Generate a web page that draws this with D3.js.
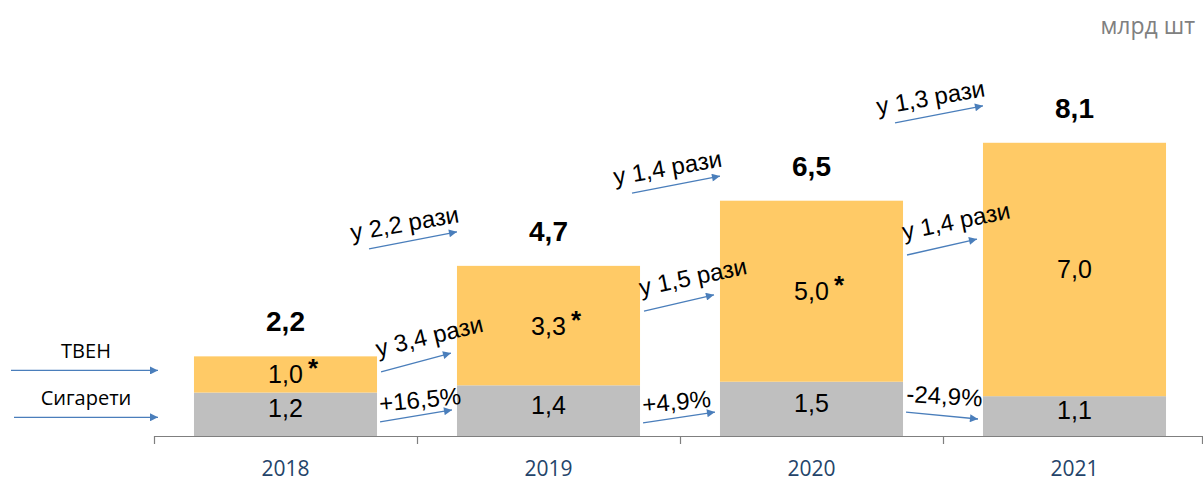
<!DOCTYPE html>
<html>
<head>
<meta charset="utf-8">
<script src="https://cdn.jsdelivr.net/npm/d3@7"></script>
<style>
  body { margin: 0; background: #fff; }
  svg { display: block; }
  .annot { font-family: "Liberation Sans", Arial, sans-serif; font-size: 24px; fill: #000; }
  .legend { font-family: "Open Sans", sans-serif; font-size: 20px; fill: #000; }
</style>
</head>
<body>
<div id="chart"></div>
<script>
'use strict';
// Data
const years = ['2018', '2019', '2020', '2021']
const cigarettes = [1.2, 1.4, 1.5, 1.1]
const tven = [1.0, 3.3, 5.0, 7.0]
const totals = [2.2, 4.7, 6.5, 8.1]
const tvenStar = [true, true, true, false]
const seriesNames = ['ТВЕН', 'Сигарети']
const totalGrowth = ['у 2,2 рази', 'у 1,4 рази', 'у 1,3 рази']
const tvenGrowth = ['у 3,4 рази', 'у 1,5 рази', 'у 1,4 рази']
const cigGrowth = ['+16,5%', '+4,9%', '-24,9%']
const unitLabel = 'млрд шт'

// Arrow heights between bars (in chart units), start/end per gap
const totalArrowLevels = [[5.17, 5.64], [6.71, 7.18], [8.65, 9.12]]
const tvenArrowLevels = [[1.77, 2.29], [3.45, 3.90], [5.0, 5.44]]
const cigArrowLevels = [[0.39, 0.72], [0.36, 0.66], [0.66, 0.47]]

const W = 1203
const H = 482
const yellow = '#FFCA66'
const grey = '#BFBFBF'
const arrowBlue = '#4A7EBB'

const locale = d3.formatLocale({ decimal: ',', thousands: ' ', grouping: [3], currency: ['', ''] })
const fmt = locale.format('.1f')

const x = d3.scaleBand().domain(years).range([154, 1206]).paddingInner(0.304).paddingOuter(0.152)
const y = d3.scaleLinear().domain([0, 10]).range([436, 74])

const svg = d3.select('#chart').append('svg')
    .attr('width', W)
    .attr('height', H)

svg.append('defs').append('marker')
    .attr('id', 'head')
    .attr('viewBox', '0 0 10 10')
    .attr('refX', 10)
    .attr('refY', 5)
    .attr('markerUnits', 'userSpaceOnUse')
    .attr('markerWidth', 11)
    .attr('markerHeight', 8)
    .attr('orient', 'auto')
    .append('path')
    .attr('d', 'M0,0 L10,5 L0,10 Z')
    .attr('fill', arrowBlue)

// Bars: cigarettes (bottom) and TVEN (top)
svg.append('g').selectAll('rect').data(years).join('rect')
    .attr('x', d => x(d))
    .attr('width', x.bandwidth())
    .attr('y', (d, i) => y(cigarettes[i]))
    .attr('height', (d, i) => y(0) - y(cigarettes[i]))
    .attr('fill', grey)
svg.append('g').selectAll('rect').data(years).join('rect')
    .attr('x', d => x(d))
    .attr('width', x.bandwidth())
    .attr('y', (d, i) => y(totals[i]))
    .attr('height', (d, i) => y(cigarettes[i]) - y(totals[i]))
    .attr('fill', yellow)

// Axis line with category boundary ticks
const step = x.step()
const x0 = x.range()[0]
svg.append('line')
    .attr('x1', x0).attr('x2', W)
    .attr('y1', y(0) + 0.5).attr('y2', y(0) + 0.5)
    .attr('stroke', '#7F7F7F').attr('stroke-width', 1.2)
svg.append('g').selectAll('line').data(d3.range(years.length + 1)).join('line')
    .attr('x1', i => Math.min(x0 + i * step, W - 1) + 0.5)
    .attr('x2', i => Math.min(x0 + i * step, W - 1) + 0.5)
    .attr('y1', y(0)).attr('y2', y(0) + 8)
    .attr('stroke', '#7F7F7F').attr('stroke-width', 1.2)

const xAxis = svg.append('g')
    .attr('transform', `translate(0, ${y(0)})`)
    .call(d3.axisBottom(x).tickSize(0).tickPadding(25))
xAxis.select('.domain').remove()
xAxis.selectAll('text')
    .attr('font-family', '"Open Sans", sans-serif')
    .attr('font-size', 21)
    .attr('fill', '#24446A')

// Value labels inside segments
const valueFont = '"Liberation Sans", Arial, sans-serif'
svg.append('g').selectAll('text').data(years).join('text')
    .attr('x', d => x(d) + x.bandwidth() / 2)
    .attr('y', (d, i) => y(cigarettes[i] / 2) + 3)
    .attr('text-anchor', 'middle')
    .attr('font-family', valueFont)
    .attr('font-size', 25)
    .text((d, i) => fmt(cigarettes[i]))

const tvenLabels = svg.append('g').selectAll('text').data(years).join('text')
    .attr('x', d => x(d) + x.bandwidth() / 2)
    .attr('y', (d, i) => y(cigarettes[i] + tven[i] / 2) + 9)
    .attr('text-anchor', 'middle')
    .attr('font-family', valueFont)
    .attr('font-size', 25)
    .text((d, i) => fmt(tven[i]))

// Asterisks after TVEN values
tvenLabels.each(function (d, i) {
    if (!tvenStar[i]) return
    const w = this.getComputedTextLength()
    svg.append('text')
        .attr('x', x(d) + x.bandwidth() / 2 + w / 2 + 5)
        .attr('y', y(cigarettes[i] + tven[i] / 2) + 9 - 6)
        .attr('font-family', valueFont)
        .attr('font-weight', 'bold')
        .attr('font-size', 26)
        .text('*')
})

// Totals on top
svg.append('g').selectAll('text').data(years).join('text')
    .attr('x', d => x(d) + x.bandwidth() / 2)
    .attr('y', (d, i) => y(totals[i]) - 25)
    .attr('text-anchor', 'middle')
    .attr('font-family', valueFont)
    .attr('font-weight', 'bold')
    .attr('font-size', 28)
    .text((d, i) => fmt(totals[i]))

// Growth arrows between bars
function drawGrowth(labels, levels, opt) {
    labels.forEach((label, i) => {
        const left = x(years[i]) + x.bandwidth()
        const right = x(years[i + 1])
        const x1 = left + opt.startOff
        const x2 = right + opt.endOff
        const y1 = y(levels[i][0])
        const y2 = y(levels[i][1])
        svg.append('line')
            .attr('x1', x1).attr('y1', y1)
            .attr('x2', x2).attr('y2', y2)
            .attr('stroke', arrowBlue)
            .attr('stroke-width', 1.3)
            .attr('marker-end', 'url(#head)')
        const angle = Math.atan2(y2 - y1, x2 - x1) * 180 / Math.PI * opt.tilt
        const tx = x1 + opt.dx
        const ty = y1 - opt.dy
        svg.append('text')
            .attr('class', 'annot')
            .attr('x', tx)
            .attr('y', ty)
            .attr('transform', `rotate(${angle}, ${tx}, ${ty})`)
            .text(label)
    })
}
drawGrowth(totalGrowth, totalArrowLevels, { startOff: -8, endOff: 0, dx: -17, dy: 8, tilt: 0.9 })
drawGrowth(tvenGrowth, tvenArrowLevels, { startOff: 4, endOff: -6, dx: -3, dy: 15, tilt: 0.9 })
drawGrowth(cigGrowth, cigArrowLevels, { startOff: 3, endOff: -5, dx: 0, dy: 10, tilt: 0.6 })

// Legend arrows on the left
const legendY = [y(cigarettes[0] + tven[0] / 2) - 4, y(cigarettes[0] / 2) + 3]
seriesNames.forEach((name, i) => {
    svg.append('line')
        .attr('x1', 11 + i * 3).attr('x2', 158)
        .attr('y1', legendY[i]).attr('y2', legendY[i])
        .attr('stroke', arrowBlue)
        .attr('stroke-width', 1.3)
        .attr('marker-end', 'url(#head)')
    svg.append('text')
        .attr('class', 'legend')
        .attr('x', 86)
        .attr('y', legendY[i] - 12)
        .attr('text-anchor', 'middle')
        .text(name)
})

// Unit label
svg.append('text')
    .attr('x', 1195)
    .attr('y', 34)
    .attr('text-anchor', 'end')
    .attr('font-family', '"Open Sans", sans-serif')
    .attr('font-size', 23)
    .attr('fill', '#808080')
    .text(unitLabel)
</script>
</body>
</html>
